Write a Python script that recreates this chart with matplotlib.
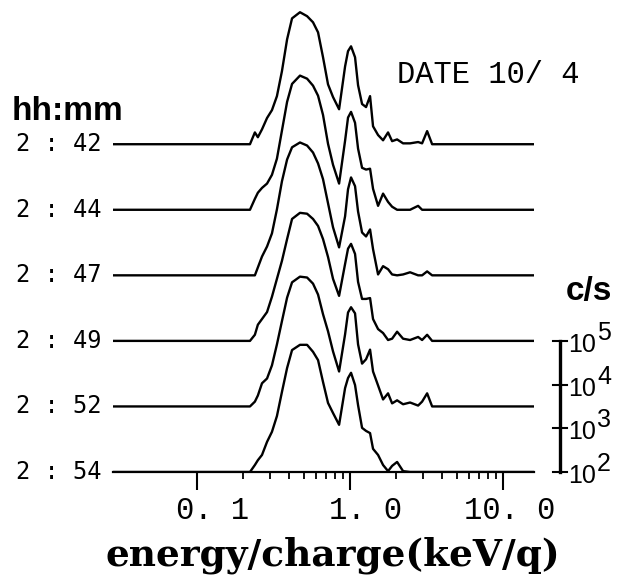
import numpy as np
import matplotlib
matplotlib.use('Agg')
import matplotlib.pyplot as plt
from matplotlib.ticker import FixedLocator, NullFormatter
from matplotlib.transforms import blended_transform_factory, ScaledTranslation

# energy steps (keV/q), shared by all spectra
energy = [0.222, 0.239, 0.250, 0.266, 0.287, 0.309, 0.333, 0.359, 0.388, 0.418,
          0.471, 0.524, 0.573, 0.618, 0.666, 0.718, 0.774, 0.848, 0.928, 0.970,
          1.015, 1.078, 1.128, 1.198, 1.272, 1.351, 1.413, 1.524, 1.643, 1.771,
          1.882, 2.029, 2.220, 2.466, 2.783, 2.955, 3.187, 3.436]

log_cps_0242 = [2.00, 2.27, 2.16, 2.34, 2.60, 2.78, 3.10, 3.67, 4.40, 4.88,
                5.02, 4.93, 4.79, 4.56, 3.99, 3.37, 3.08, 2.80, 3.78, 4.13,
                4.24, 3.99, 3.35, 2.92, 2.85, 3.10, 2.41, 2.21, 2.09, 2.27,
                2.07, 2.11, 2.02, 2.02, 2.05, 2.02, 2.30, 2.00]
log_cps_0244 = [2.00, 2.25, 2.39, 2.50, 2.60, 2.80, 3.17, 3.81, 4.47, 4.88,
                5.07, 5.00, 4.84, 4.61, 4.17, 3.51, 3.03, 2.60, 3.58, 4.11,
                4.24, 3.99, 3.40, 2.96, 2.92, 2.94, 2.48, 2.09, 2.37, 2.18,
                2.07, 2.00, 2.00, 2.00, 2.09, 2.00, 2.00, 2.00]
log_cps_0247 = [2.00, 2.00, 2.18, 2.43, 2.66, 2.96, 3.51, 4.15, 4.65, 4.93,
                5.04, 4.97, 4.81, 4.56, 4.20, 3.65, 3.10, 2.64, 3.35, 3.97,
                4.24, 4.04, 3.46, 2.98, 2.89, 3.05, 2.60, 2.02, 2.21, 2.14,
                2.02, 2.00, 2.02, 2.07, 2.00, 2.00, 2.09, 2.00]
log_cps_0249 = [2.00, 2.14, 2.37, 2.50, 2.66, 3.01, 3.42, 3.83, 4.33, 4.79,
                4.93, 4.91, 4.79, 4.63, 4.33, 3.92, 3.42, 3.03, 3.76, 4.11,
                4.22, 3.99, 3.35, 2.96, 2.96, 2.98, 2.50, 2.27, 2.18, 2.02,
                2.05, 2.21, 2.05, 2.02, 2.09, 2.02, 2.14, 2.00]
log_cps_0252 = [2.00, 2.11, 2.25, 2.53, 2.64, 2.94, 3.42, 3.95, 4.49, 4.84,
                4.97, 4.95, 4.81, 4.56, 4.11, 3.72, 3.26, 2.80, 3.65, 4.15,
                4.27, 4.13, 3.42, 2.98, 3.08, 3.30, 2.80, 2.48, 2.16, 2.30,
                2.07, 2.14, 2.05, 2.09, 2.02, 2.11, 2.30, 2.00]
log_cps_0254 = [2.00, 2.16, 2.27, 2.39, 2.69, 2.92, 3.28, 3.83, 4.38, 4.79,
                4.91, 4.91, 4.75, 4.56, 4.06, 3.58, 3.35, 3.08, 3.92, 4.15,
                4.27, 3.99, 3.53, 3.01, 2.94, 2.89, 2.53, 2.39, 2.16, 2.02,
                2.14, 2.23, 2.02, 2.00, 2.00, 2.00, 2.00, 2.00]

times = ['2 : 42', '2 : 44', '2 : 47', '2 : 49', '2 : 52', '2 : 54']
spectra = [log_cps_0242, log_cps_0244, log_cps_0247,
           log_cps_0249, log_cps_0252, log_cps_0254]

major_ticks = [0.1, 1.0, 10.0]
tick_labels = ['0. 1', '1. 0', '10. 0']
minor_ticks = [0.2, 0.3, 0.4, 0.5, 0.6, 0.7, 0.8, 0.9,
               2, 3, 4, 5, 6, 7, 8, 9]
scale_exponents = [2, 3, 4, 5]

FLOOR = 2.0        # 10^2 c/s sits on the baseline
ROW_STEP = 1.5     # decades between stacked baselines
XLIM = (0.0283, 15.9)

fig = plt.figure(figsize=(6.18, 5.82), dpi=100)
ax = fig.add_axes([113 / 618, 110 / 582, 421 / 618, 472 / 582])
ax.set_xscale('log')
ax.set_xlim(*XLIM)
ax.set_ylim(0, 10.8)

n = len(spectra)
for i, vals in enumerate(spectra):
    base = (n - 1 - i) * ROW_STEP
    xs = [XLIM[0]] + energy + [XLIM[1]]
    ys = np.maximum(np.array([FLOOR] + vals + [FLOOR]), FLOOR) - FLOOR + base
    ax.plot(xs, ys, color='black', lw=1.7, solid_joinstyle='round')
    ax.annotate(times[i], xy=(0, base),
                xycoords=blended_transform_factory(ax.transAxes, ax.transData),
                xytext=(-11, 0), textcoords='offset pixels',
                ha='right', va='center', fontsize=17,
                fontfamily='DejaVu Sans Mono', annotation_clip=False)

# axes: only the bottom line with ticks pointing down
for side in ['top', 'left', 'right']:
    ax.spines[side].set_visible(False)
ax.spines['bottom'].set_linewidth(1.6)
ax.set_yticks([])
ax.xaxis.set_major_locator(FixedLocator(major_ticks))
ax.xaxis.set_minor_locator(FixedLocator(minor_ticks))
ax.xaxis.set_minor_formatter(NullFormatter())
ax.set_xticklabels(tick_labels, fontfamily='Liberation Mono', fontsize=22)
ax.tick_params(axis='x', which='major', direction='out', length=13, width=1.5, pad=4)
ax.tick_params(axis='x', which='minor', direction='out', length=5, width=1.3)
shift = ScaledTranslation(0.52, 0, fig.dpi_scale_trans)
for lab in ax.get_xticklabels():
    lab.set_horizontalalignment('right')
    lab.set_transform(lab.get_transform() + shift)

# count-rate scale bar on the right
bar_tr = blended_transform_factory(ax.transAxes, ax.transData)
lo, hi = scale_exponents[0] - FLOOR, scale_exponents[-1] - FLOOR
ax.plot([1.0618, 1.0618], [lo, hi], color='black', lw=2.4,
        transform=bar_tr, clip_on=False)
for e in scale_exponents:
    lv = e - FLOOR
    ax.plot([1.0451, 1.0784], [lv, lv], color='black', lw=1.5,
            transform=bar_tr, clip_on=False)
    ax.annotate('10', xy=(1.0808, lv), xycoords=bar_tr, xytext=(0, -11),
                textcoords='offset pixels', ha='left', va='baseline',
                fontsize=18, fontfamily='Liberation Sans', annotation_clip=False)
    ax.annotate(str(e), xy=(1.1500, lv), xycoords=bar_tr, xytext=(0, 1),
                textcoords='offset pixels', ha='left', va='baseline',
                fontsize=18, fontfamily='Liberation Sans', annotation_clip=False)

fig.text(566 / 618, 1 - 300 / 582, 'c/s', fontsize=24, fontweight='bold',
         fontfamily='Liberation Sans', va='baseline')
fig.text(12 / 618, 1 - 120 / 582, 'hh:mm', fontsize=24, fontweight='bold',
         fontfamily='Liberation Sans', va='baseline')
fig.text(397 / 618, 1 - 83 / 582, 'DATE 10/ 4', fontsize=22,
         fontfamily='Liberation Mono', va='baseline')
fig.text(333 / 618, 1 - 566 / 582, 'energy/charge(keV/q)', fontsize=27,
         fontweight='bold', fontfamily='DejaVu Serif', ha='center', va='baseline')

fig.savefig('out.png', dpi=100, facecolor='white')
